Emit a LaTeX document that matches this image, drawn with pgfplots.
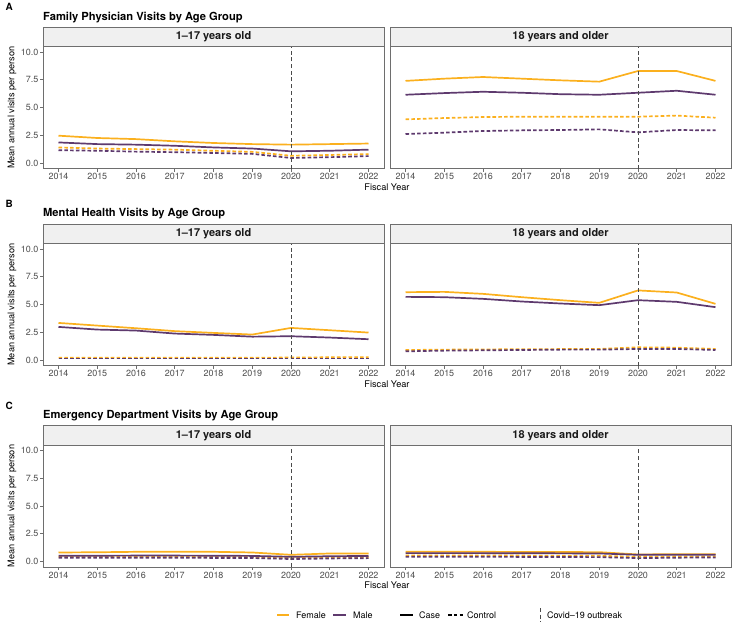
\documentclass[border=0pt]{standalone}
\usepackage{fontspec}
\setmainfont{TeX Gyre Heros}
\usepackage{pgfplots}
\pgfplotsset{compat=1.18}
\usepackage{pgfplotstable}

\definecolor{female}{HTML}{FBB01E}
\definecolor{male}{HTML}{5E3A6E}
\definecolor{tickgray}{HTML}{4D4D4D}
\definecolor{framegray}{HTML}{6E6E6E}
\definecolor{stripfill}{HTML}{F0F0F0}
\definecolor{covid}{HTML}{4A4A4A}

% columns: fiscal year, female case, male case, female control, male control
\pgfplotstableread{
year fc   mc   fct  mct
2014 2.46 1.85 1.40 1.15
2015 2.25 1.70 1.30 1.10
2016 2.15 1.65 1.25 1.02
2017 1.95 1.55 1.20 0.97
2018 1.80 1.40 1.10 0.90
2019 1.70 1.30 1.00 0.82
2020 1.65 1.05 0.65 0.45
2021 1.70 1.10 0.72 0.52
2022 1.75 1.20 0.80 0.62
}\fpyoung
\pgfplotstableread{
year fc   mc   fct  mct
2014 7.40 6.15 3.93 2.61
2015 7.60 6.30 4.05 2.73
2016 7.75 6.42 4.14 2.88
2017 7.60 6.33 4.17 2.94
2018 7.45 6.20 4.17 2.97
2019 7.33 6.15 4.17 3.03
2020 8.29 6.33 4.17 2.76
2021 8.29 6.51 4.27 2.97
2022 7.40 6.15 4.08 2.94
}\fpadult
\pgfplotstableread{
year fc   mc   fct  mct
2014 3.34 2.98 0.20 0.12
2015 3.10 2.74 0.20 0.12
2016 2.86 2.65 0.20 0.12
2017 2.60 2.38 0.20 0.12
2018 2.44 2.26 0.20 0.12
2019 2.29 2.10 0.20 0.12
2020 2.89 2.14 0.22 0.12
2021 2.68 2.02 0.24 0.12
2022 2.47 1.87 0.25 0.12
}\mhyoung
\pgfplotstableread{
year fc   mc   fct  mct
2014 6.11 5.69 0.90 0.78
2015 6.14 5.66 0.93 0.84
2016 5.96 5.51 0.95 0.87
2017 5.66 5.27 0.97 0.90
2018 5.39 5.09 0.98 0.93
2019 5.15 4.94 0.99 0.93
2020 6.27 5.39 1.14 0.99
2021 6.08 5.24 1.11 0.99
2022 5.06 4.76 0.99 0.90
}\mhadult
\pgfplotstableread{
year fc   mc   fct  mct
2014 0.81 0.52 0.42 0.33
2015 0.83 0.52 0.42 0.33
2016 0.87 0.53 0.43 0.33
2017 0.87 0.53 0.43 0.33
2018 0.87 0.52 0.42 0.32
2019 0.81 0.50 0.40 0.31
2020 0.60 0.42 0.30 0.22
2021 0.72 0.47 0.36 0.27
2022 0.72 0.50 0.38 0.30
}\edyoung
\pgfplotstableread{
year fc   mc   fct  mct
2014 0.87 0.75 0.54 0.42
2015 0.87 0.75 0.54 0.42
2016 0.87 0.75 0.54 0.42
2017 0.86 0.74 0.53 0.41
2018 0.85 0.73 0.52 0.40
2019 0.84 0.72 0.51 0.39
2020 0.63 0.60 0.42 0.30
2021 0.66 0.61 0.44 0.34
2022 0.66 0.60 0.45 0.36
}\edadult

\tikzset{
  fem case/.style={female, line width=1.7bp},
  male case/.style={male, line width=1.7bp},
  fem ctrl/.style={female, line width=1.7bp, dash pattern=on 3.6bp off 2.2bp},
  male ctrl/.style={male, line width=1.7bp, dash pattern=on 3.6bp off 2.2bp},
  covid line/.style={covid, line width=0.8bp, dash pattern=on 4bp off 2.7bp},
}

\pgfplotsset{
  facet/.style={
    scale only axis, width=341bp, height=122bp,
    anchor=south west,
    xmin=2013.6, xmax=2022.4, ymin=-0.5, ymax=10.5,
    axis line style={framegray, line width=0.9bp},
    tick align=outside, major tick length=3bp,
    every tick/.style={framegray, line width=0.8bp},
    xtick={2014,2015,2016,2017,2018,2019,2020,2021,2022},
    xticklabels={2014,2015,2016,2017,2018,2019,2020,2021,2022},
    xtick pos=bottom, ytick pos=left,
    tick label style={font=\fontsize{9}{10}\selectfont, text=tickgray},
    xticklabel style={inner sep=1.5bp},
    yticklabel style={inner sep=1.5bp},
  },
  leftfacet/.style={facet,
    ytick={0,2.5,5,7.5,10},
    yticklabels={0.0,2.5,5.0,7.5,10.0}},
  rightfacet/.style={facet, ytick=\empty},
}

% one panel: four series and the outbreak marker
\newcommand{\panel}[1]{%
  \addplot[fem case, no marks] table[x=year, y=fc] {#1};
  \addplot[fem ctrl, no marks] table[x=year, y=fct] {#1};
  \addplot[male case, no marks] table[x=year, y=mc] {#1};
  \addplot[male ctrl, no marks] table[x=year, y=mct] {#1};
  \addplot[covid line, no marks] coordinates {(2020,-0.5) (2020,10.5)};
}

\newcommand{\strip}[2]{%
  \draw[framegray, line width=0.9bp, fill=stripfill]
    (#1.north west) rectangle ([yshift=19.5bp]#1.north east);
  \node[font=\bfseries\fontsize{11}{12}\selectfont, text=black!90]
    at ([yshift=9.75bp]#1.north) {#2};
}

\begin{document}
\begin{tikzpicture}
\useasboundingbox (0,0) rectangle (733bp,-622bp);

% ---- A: family physician ----
\begin{axis}[leftfacet, name=a1, at={(43bp,-168.5bp)}]
  \panel{\fpyoung}
\end{axis}
\begin{axis}[rightfacet, name=a2, at={(390bp,-168.5bp)}]
  \panel{\fpadult}
\end{axis}

% ---- B: mental health ----
\begin{axis}[leftfacet, name=b1, at={(43bp,-365.5bp)}]
  \panel{\mhyoung}
\end{axis}
\begin{axis}[rightfacet, name=b2, at={(390bp,-365.5bp)}]
  \panel{\mhadult}
\end{axis}

% ---- C: emergency department ----
\begin{axis}[leftfacet, name=c1, at={(43bp,-567bp)}]
  \panel{\edyoung}
\end{axis}
\begin{axis}[rightfacet, name=c2, at={(390bp,-567bp)}]
  \panel{\edadult}
\end{axis}

% facet strips
\strip{a1}{1--17 years old}
\strip{a2}{18 years and older}
\strip{b1}{1--17 years old}
\strip{b2}{18 years and older}
\strip{c1}{1--17 years old}
\strip{c2}{18 years and older}

% tags and titles
\begin{scope}[every node/.style={anchor=base west, inner sep=0pt}]
  \node[font=\bfseries\fontsize{10}{12}\selectfont] at (5.5bp,-10.5bp) {A};
  \node[font=\bfseries\fontsize{11.2}{13}\selectfont] at (43bp,-20bp) {Family Physician Visits by Age Group};
  \node[font=\bfseries\fontsize{10}{12}\selectfont] at (5.5bp,-207.5bp) {B};
  \node[font=\bfseries\fontsize{11.2}{13}\selectfont] at (43bp,-216.5bp) {Mental Health Visits by Age Group};
  \node[font=\bfseries\fontsize{10}{12}\selectfont] at (5.5bp,-409.5bp) {C};
  \node[font=\bfseries\fontsize{11.2}{13}\selectfont] at (43bp,-418.5bp) {Emergency Department Visits by Age Group};
\end{scope}

% axis titles
\begin{scope}[every node/.style={font=\fontsize{9.2}{11}\selectfont, inner sep=0pt}]
  \node[rotate=90] at (12bp,-107.75bp) {Mean annual visits per person};
  \node[rotate=90] at (12bp,-304.5bp) {Mean annual visits per person};
  \node[rotate=90] at (12bp,-506bp) {Mean annual visits per person};
  \node at (387bp,-187bp) {Fiscal Year};
  \node at (387bp,-384bp) {Fiscal Year};
  \node at (387bp,-585.5bp) {Fiscal Year};
\end{scope}

% legend
\begin{scope}[every node/.style={font=\fontsize{9}{11}\selectfont, anchor=west, inner sep=0pt}]
  \draw[fem case] (277bp,-615bp) -- (289bp,-615bp);
  \node at (296bp,-615bp) {Female};
  \draw[male case] (333bp,-615bp) -- (346bp,-615bp);
  \node at (353bp,-615bp) {Male};
  \draw[black, line width=1.7bp] (400bp,-615bp) -- (413bp,-615bp);
  \node at (419bp,-615bp) {Case};
  \draw[black, line width=1.7bp, dash pattern=on 3.6bp off 2.2bp] (448bp,-615bp) -- (463bp,-615bp);
  \node at (467bp,-615bp) {Control};
  \draw[covid line] (540bp,-608bp) -- (540bp,-622bp);
  \node at (547bp,-615bp) {Covid--19 outbreak};
\end{scope}
\end{tikzpicture}
\end{document}
